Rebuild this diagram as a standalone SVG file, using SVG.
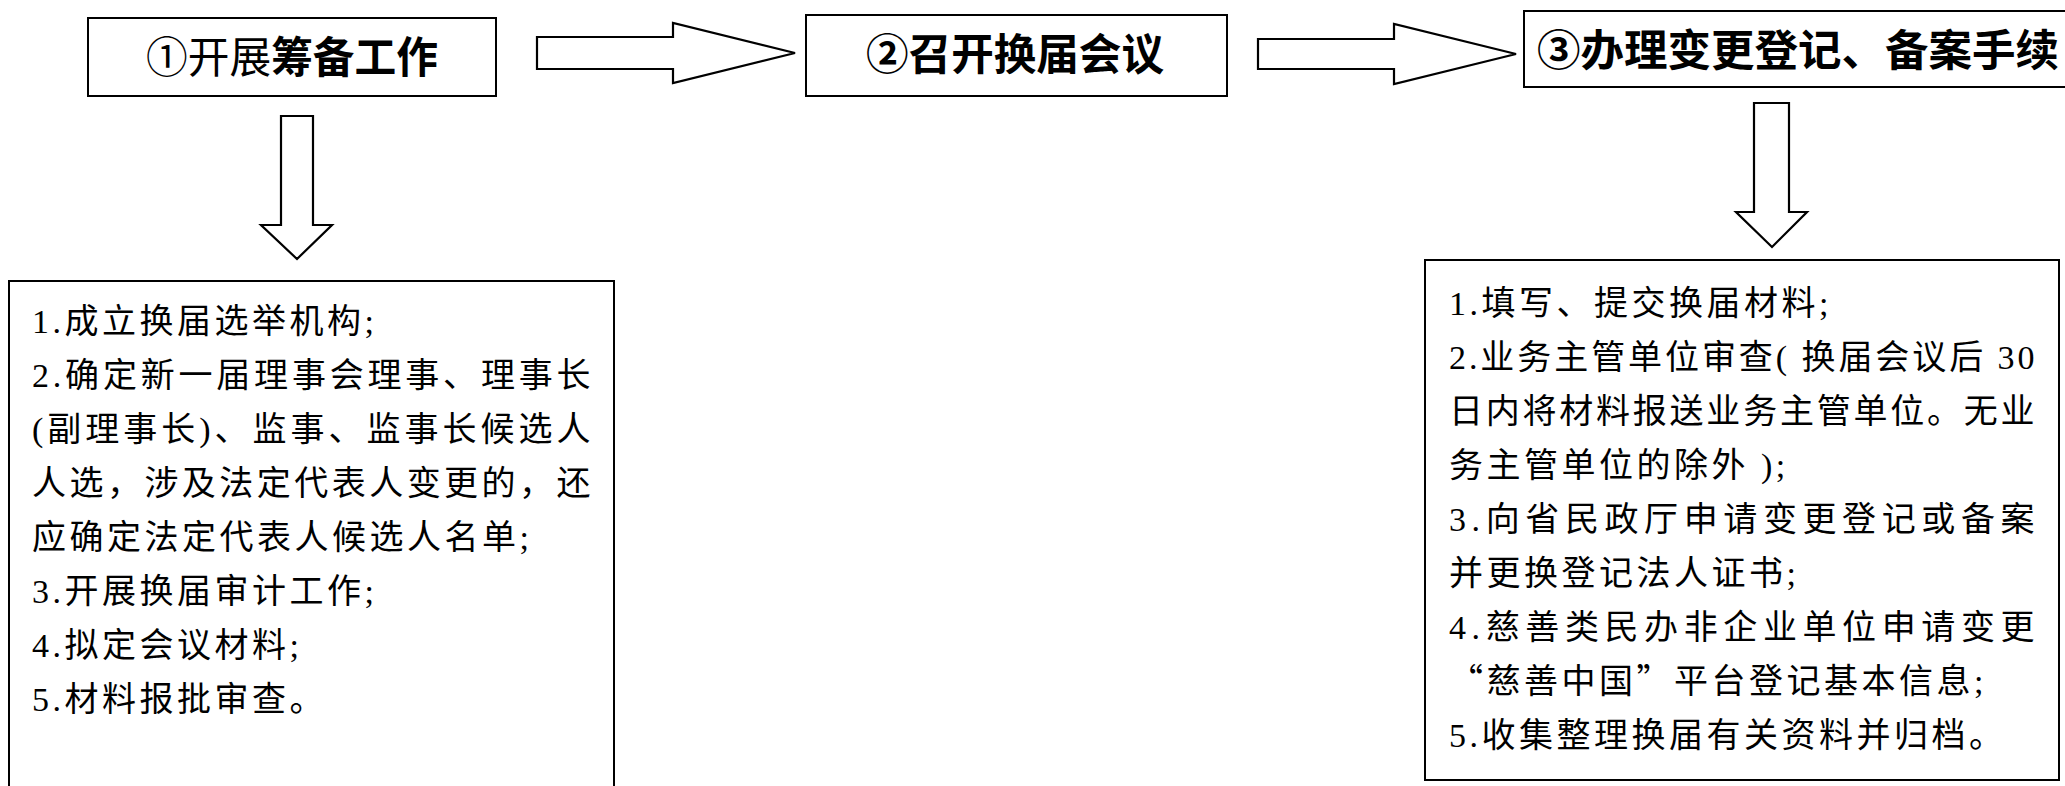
<svg xmlns="http://www.w3.org/2000/svg" width="2065" height="786" viewBox="0 0 2065 786">
<style>
  .box { fill: #ffffff; stroke: #000000; stroke-width: 2; }
  .arrow { fill: #ffffff; stroke: #000000; stroke-width: 2.2; stroke-linejoin: miter; }
  .title { font-family: "Noto Sans CJK SC", "Noto Sans", sans-serif; font-weight: bold; fill: #000000; }
  .light { font-weight: normal; }
  .body { font-family: "Liberation Serif", "Noto Sans CJK SC", serif; font-size: 34px; letter-spacing: 3.5px; fill: #000000; }
  .cjk { font-family: "Noto Sans CJK SC", sans-serif; }
</style>
<rect x="0" y="0" width="2065" height="786" fill="#ffffff"/>

<g id="node-step1">
  <rect class="box" x="88" y="18" width="408" height="78"/>
  <text class="title" x="292" y="73" font-size="43" text-anchor="middle" textLength="292" lengthAdjust="spacingAndGlyphs"><tspan class="light">①开展</tspan>筹备工作</text>
</g>

<g id="node-step2">
  <rect class="box" x="806" y="15" width="421" height="81"/>
  <text class="title" x="1015" y="70" font-size="43" text-anchor="middle" textLength="298" lengthAdjust="spacingAndGlyphs">②召开换届会议</text>
</g>

<g id="node-step3">
  <rect class="box" x="1524" y="11" width="560" height="76"/>
  <text class="title" x="1537" y="66" font-size="43.5">③办理变更登记、备案手续</text>
</g>

<g id="node-details1">
  <rect class="box" x="9" y="281" width="605" height="530"/>
  <text class="body" x="32" y="333">1.成立换届选举机构;</text>
  <text class="body" x="32" y="387" textLength="562" lengthAdjust="spacing">2.确定新一届理事会理事、理事长</text>
  <text class="body" x="32" y="441" textLength="562" lengthAdjust="spacing">(副理事长)、监事、监事长候选人</text>
  <text class="body" x="32" y="495" textLength="562" lengthAdjust="spacing">人选，涉及法定代表人变更的，还</text>
  <text class="body" x="32" y="549">应确定法定代表人候选人名单;</text>
  <text class="body" x="32" y="603">3.开展换届审计工作;</text>
  <text class="body" x="32" y="657">4.拟定会议材料;</text>
  <text class="body" x="32" y="711">5.材料报批审查。</text>
</g>

<g id="node-details3">
  <rect class="box" x="1425" y="260" width="634" height="520"/>
  <text class="body" x="1449" y="315">1.填写、提交换届材料;</text>
  <text class="body" x="1449" y="369" textLength="589" lengthAdjust="spacing">2.业务主管单位审查( 换届会议后 30</text>
  <text class="body" x="1449" y="423" textLength="589" lengthAdjust="spacing">日内将材料报送业务主管单位。无业</text>
  <text class="body" x="1449" y="477">务主管单位的除外 );</text>
  <text class="body" x="1449" y="531" textLength="589" lengthAdjust="spacing">3.向省民政厅申请变更登记或备案</text>
  <text class="body" x="1449" y="585">并更换登记法人证书;</text>
  <text class="body" x="1449" y="639" textLength="589" lengthAdjust="spacing">4.慈善类民办非企业单位申请变更</text>
  <text class="body" x="1449" y="693"><tspan class="cjk">“</tspan>慈善中国<tspan class="cjk">”</tspan>平台登记基本信息;</text>
  <text class="body" x="1449" y="747">5.收集整理换届有关资料并归档。</text>
</g>

<g id="connectors">
  <polygon class="arrow" points="537,37 673,37 673,23 795,53 673,83 673,69 537,69"/>
  <polygon class="arrow" points="1258,39 1394,39 1394,24 1516,54 1394,84 1394,69 1258,69"/>
  <polygon class="arrow" points="281,116 313,116 313,225 332,225 297,259 261,225 281,225"/>
  <polygon class="arrow" points="1754,103 1789,103 1789,212 1807,212 1772,247 1736,212 1754,212"/>
</g>
</svg>
